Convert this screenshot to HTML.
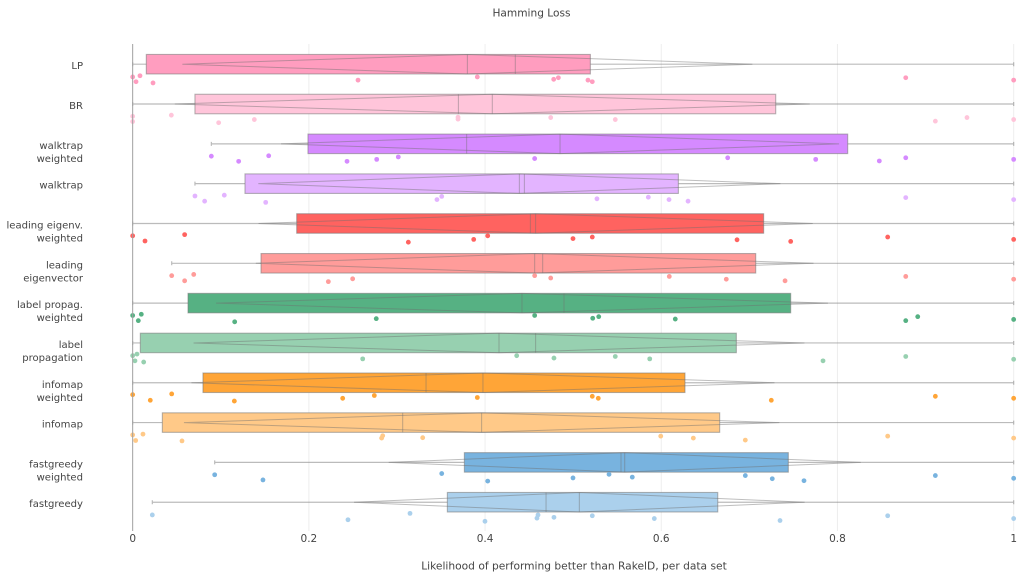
<!DOCTYPE html>
<html lang="en">
<head>
<meta charset="utf-8">
<title>Hamming Loss</title>
<style>
  html, body { margin: 0; padding: 0; background: #fff; }
  #chart { display: block; width: 1024px; height: 577px; filter: blur(0.35px); }
  text { font-family: "DejaVu Sans", "Liberation Sans", sans-serif; fill: #444; font-size: 10.5px; }
  #ylabels text { font-size: 10.05px; }
</style>
</head>
<body>
<svg id="chart" xmlns="http://www.w3.org/2000/svg" width="1024" height="577" viewBox="0 0 1024 577">
  <text x="531.5" y="16.5" text-anchor="middle" style="font-size:10.6px">Hamming Loss</text>
  <text x="574" y="569.5" text-anchor="middle" style="font-size:10.67px">Likelihood of performing better than RakelD, per data set</text>
  <g id="grid"></g>
  <g id="boxes"></g>
  <g id="points"></g>
  <g id="xticks"></g>
  <g id="ylabels"></g>
  <line x1="132.67" x2="132.67" y1="44" y2="531" stroke="#a0a0a0" stroke-width="1"></line>
</svg>
<script>
const categories = [
  ['LP'], ['BR'], ['walktrap', 'weighted'], ['walktrap'],
  ['leading eigenv.', 'weighted'], ['leading', 'eigenvector'],
  ['label propag.', 'weighted'], ['label', 'propagation'],
  ['infomap', 'weighted'], ['infomap'], ['fastgreedy', 'weighted'], ['fastgreedy']
];
const seriesColors = ['#ff9dbf', '#ffc5da', '#d58aff', '#e3b4ff', '#ff6360', '#ff9c9a', '#56b183', '#97d0b0', '#ffa537', '#ffc988', '#78b3df', '#abd0ec'];
const q1Values = [.0155, .0707, .1990, .1275, .1862, .1457, .0628, .0087, .0798, .0337, .3765, .3572];
const medianValues = [.3799, .4082, .4851, .4389, .4574, .4563, .4419, .4158, .3976, .3961, .5585, .5070];
const meanValues = [.4343, .3697, .3791, .4446, .4514, .4654, .4896, .4574, .3330, .3065, .5543, .4692];
const q3Values = [.5195, .7299, .8116, .6194, .7162, .7072, .7469, .6852, .6269, .6663, .7442, .6641];
const lowerFences = [0, 0, .0893, .0707, 0, .0443, 0, 0, 0, 0, .0931, .0223];
const upperFences = [1, 1, 1, 1, 1, 1, 1, 1, 1, 1, 1, 1];
const notchSpans = [.3235, .3604, .3167, .2963, .3145, .3165, .3473, .3467, .3309, .3379, .2679, .2557];
const pointValues = [
  [0, .0083, .0038, .0231, .2558, .3912, .4779, .4832, .5168, .5217, .8775, 1],
  [0, 0, .0439, .0976, .1381, .3693, .3693, .4745, .5478, .9111, .9470, 1],
  [.0893, .1203, .1544, .2433, .2770, .3015, .4563, .6754, .7753, .8475, .8775, 1],
  [.0707, .0817, .1040, .1510, .3454, .3508, .5270, .5853, .6088, .6304, .8775, 1],
  [0, .0140, .0590, .3129, .3871, .4030, .4998, .5217, .6860, .7469, .8570, 1],
  [.0443, .0590, .0693, .2221, .2497, .4563, .4745, .6091, .6738, .7405, .8775, 1],
  [0, .0098, .0064, .1158, .2765, .4563, .5222, .5290, .6159, .8775, .8911, 1],
  [0, .0049, .0026, .0125, .2611, .4359, .4782, .5478, .5869, .7836, .8775, 1],
  [0, .0200, .0443, .1154, .2384, .2743, .3912, .5217, .5285, .7249, .9111, 1],
  [0, .0117, .0034, .0560, .2826, .2838, .3292, .5994, .6364, .6954, .8570, 1],
  [.0931, .1479, .3508, .4030, .4998, .5407, .5671, .6954, .7260, .7620, .9111, 1],
  [.0223, .2444, .3148, .3999, .4589, .4601, .4782, .5217, .5921, .7348, .8570, 1]
];
const pointJitter = [
  [.32, .29, .44, .47, .40, .32, .38, .34, .40, .44, .34, .40],
  [.31, .44, .28, .47, .39, .33, .38, .34, .39, .43, .34, .39],
  [.31, .44, .30, .44, .39, .33, .37, .35, .39, .43, .35, .39],
  [.31, .44, .29, .47, .40, .32, .38, .34, .40, .44, .35, .40],
  [.31, .44, .28, .47, .40, .31, .38, .34, .41, .45, .34, .40],
  [.31, .44, .28, .46, .39, .31, .37, .33, .40, .44, .33, .40],
  [.31, .28, .44, .47, .39, .31, .38, .34, .40, .44, .34, .41],
  [.32, .28, .45, .48, .40, .32, .38, .34, .40, .45, .34, .41],
  [.30, .44, .28, .46, .39, .32, .37, .34, .39, .44, .34, .39],
  [.31, .29, .45, .46, .39, .33, .38, .34, .39, .44, .34, .39],
  [.31, .44, .28, .47, .39, .30, .37, .33, .41, .46, .33, .40],
  [.32, .44, .28, .48, .40, .32, .38, .34, .41, .46, .34, .41]
];
const xTickValues = [0, 0.2, 0.4, 0.6, 0.8, 1];
const xTickLabels = ['0', '0.2', '0.4', '0.6', '0.8', '1'];

const NS = 'http://www.w3.org/2000/svg';
const xScale = v => 132.67 + v * 881;
const yScale = c => 64.2 + c * 39.82;
const BOX_HALF = 0.245;
const LINE = 'rgba(110,110,110,0.45)';

function make(tag, attrs, parent) {
  const el = document.createElementNS(NS, tag);
  Object.keys(attrs).forEach(k => el.setAttribute(k, attrs[k]));
  parent.appendChild(el);
  return el;
}

const gridG = document.getElementById('grid');
const ticksG = document.getElementById('xticks');
xTickValues.forEach((v, i) => {
  if (v !== 0) {
    const g = make('line', { x1: xScale(v), x2: xScale(v), y1: 44, y2: 531, stroke: '#eee', 'stroke-width': 1 }, gridG);
    
    
  }
  const t = make('text', { x: xScale(v), y: 542, 'text-anchor': 'middle' }, ticksG);
  t.textContent = xTickLabels[i];
  
  
});

const ylabelsG = document.getElementById('ylabels');
categories.forEach((lines, r) => {
  const t = make('text', { 'text-anchor': 'end' }, ylabelsG);
  
  
  const first = yScale(r) + 5;
  lines.forEach((s, i) => {
    const sp = make('tspan', { x: 83, y: first + i * 13 }, t);
    sp.textContent = s;
  });
});

const boxesG = document.getElementById('boxes');
const pointsG = document.getElementById('points');
categories.forEach((_, r) => {
  const g = make('g', {}, boxesG);
  
  
  const cy = yScale(r);
  const y0 = yScale(r - BOX_HALF);
  const y1 = yScale(r + BOX_HALF);
  const q1 = xScale(q1Values[r]);
  const q3 = xScale(q3Values[r]);
  const med = xScale(medianValues[r]);
  const mean = xScale(meanValues[r]);
  const lo = xScale(lowerFences[r]);
  const hi = xScale(upperFences[r]);
  const tipL = xScale(medianValues[r] - notchSpans[r]);
  const tipR = xScale(medianValues[r] + notchSpans[r]);

  const wl = make('path', { d: `M${q1} ${cy}H${lo}M${lo} ${cy - 2}V${cy + 2}M${q3} ${cy}H${hi}M${hi} ${cy - 2}V${cy + 2}`, fill: 'none', stroke: 'rgba(120,120,120,0.5)', 'stroke-width': 1.2 }, g);
  
  

  const rect = make('rect', { x: q1, y: y0, width: q3 - q1, height: y1 - y0, fill: seriesColors[r], stroke: 'rgba(120,120,120,0.55)', 'stroke-width': 1.1 }, g);
  
  

  const notch = make('path', { d: `M${tipL} ${cy}L${med} ${y0}L${tipR} ${cy}L${med} ${y1}Z`, fill: 'none', stroke: LINE, 'stroke-width': 1 }, g);
  
  

  const medL = make('line', { x1: med, x2: med, y1: y0, y2: y1, stroke: LINE, 'stroke-width': 1 }, g);
  
  

  const meanL = make('line', { x1: mean, x2: mean, y1: y0, y2: y1, stroke: LINE, 'stroke-width': 1 }, g);
  
  

  pointValues[r].forEach((v, i) => {
    const c = make('circle', { cx: xScale(v), cy: yScale(r + pointJitter[r][i]), r: 2.4, fill: seriesColors[r] }, pointsG);
    
    
  });
});
</script>
</body>
</html>
